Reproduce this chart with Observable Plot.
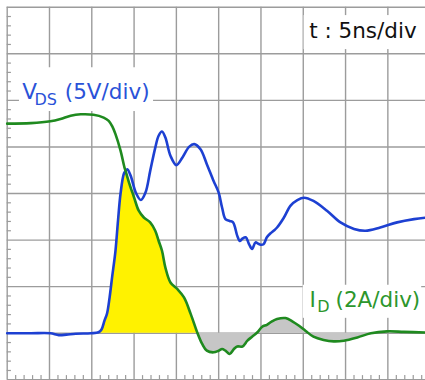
<!DOCTYPE html>
<html>
<head>
<meta charset="utf-8">
<script src="https://cdn.jsdelivr.net/npm/d3@7"></script>
<script src="https://cdn.jsdelivr.net/npm/@observablehq/plot@0.6"></script>
<style>
  body { margin: 0; background: #fff; }
</style>
</head>
<body>
<div id="chart"></div>
<script>
// Channel 1 (blue trace): sample times (ns) and volts
const vdsTime = [0.0, 2.8, 5.1, 6.1, 7.0, 8.1, 9.9, 10.8, 11.15, 11.5, 11.8, 12.1, 12.4, 12.8, 13.1, 13.4, 13.8, 14.0, 14.2, 14.6,
  15.2, 15.8, 16.35, 16.9, 17.5, 17.9, 18.3, 18.7, 19.3, 20.0, 20.7, 21.5, 22.1, 22.85, 23.6, 24.4, 25.0, 25.4, 25.8, 26.3,
  26.7, 27.2, 27.5, 27.8, 28.2, 28.6, 28.95, 29.35, 29.7, 29.95, 30.3, 30.7, 31.1, 31.5, 31.9, 32.7, 33.5, 34.3, 35.1, 36.2,
  37.8, 39.4, 41.0, 42.35, 44.1, 46.1, 48.1, 49.45];
const vdsVolts = [0, 0, 0, -0.2, -0.15, -0.05, 0, 0.1, 0.4, 1.35, 2.1, 3.8, 6.0, 8.85, 12.1, 15.0, 17.15, 17.4, 17.6, 16.9,
  15.1, 14.3, 15.1, 17.4, 19.9, 21.2, 21.65, 21.0, 19.05, 18.05, 18.85, 20.0, 20.3, 19.75, 18.15, 16.35, 15.1, 13.5, 12.25, 12.05,
  11.9, 10.45, 9.9, 10.15, 10.3, 9.55, 9.05, 9.75, 9.6, 9.5, 9.55, 10.3, 10.7, 11.0, 11.35, 12.4, 13.7, 14.3, 14.55, 14.2,
  13.15, 11.9, 11.2, 11.0, 11.35, 11.9, 12.25, 12.4];

// Channel 2 (green trace): sample times (ns) and amperes
const idTime = [0.0, 2.8, 5.1, 6.3, 7.5, 8.7, 10.2, 11.4, 12.0, 12.45, 12.8, 13.4, 13.86, 14.0, 14.4, 15.0, 15.55, 16.15, 16.9, 17.5,
  17.9, 18.3, 18.7, 19.3, 20.1, 20.9, 21.7, 22.5, 23.05, 23.6, 24.4, 25.0, 25.4, 25.8, 26.3, 26.8, 27.2, 27.8, 28.4, 28.95,
  29.55, 30.15, 30.7, 31.3, 31.9, 32.9, 33.7, 34.5, 35.25, 36.2, 37.4, 38.6, 39.8, 41.4, 43.0, 44.9, 46.9, 49.45];
const idAmps = [9.0, 9.02, 9.1, 9.2, 9.34, 9.4, 9.38, 9.26, 9.12, 8.86, 8.55, 7.84, 7.12, 6.96, 6.47, 5.83, 5.26, 4.97, 4.76, 4.4,
  3.97, 3.54, 2.82, 2.18, 1.9, 1.54, 0.82, 0, -0.46, -0.75, -0.82, -0.75, -0.68, -0.75, -0.89, -0.68, -0.57, -0.57, -0.32, -0.15,
  0.03, 0.28, 0.36, 0.51, 0.61, 0.65, 0.51, 0.32, 0.11, -0.15, -0.29, -0.35, -0.32, -0.18, 0, 0.08, 0.06, 0.03];

// Scope settings
const nsPerDiv = 5;
const voltsPerDiv = 5;
const ampsPerDiv = 2;

// Graticule: major divisions and minor subdivisions
const xMajor = d3.range(0, 50, nsPerDiv);            // ns
const yMajor = d3.range(-1, 8, 1);                   // div
const xMinor = d3.range(0, 50, 1).filter(t => t % nsPerDiv !== 0);
const yMinor = d3.range(-1, 7.001, 0.2).map(v => +v.toFixed(1)).filter(v => !Number.isInteger(v));

// Switching window: overlap region and ringing region
const turnOnStart = 10.8, crossover = 14.0, currentZero = 22.5, ringEnd = 43.0;

const vds = vdsTime.map((t, i) => ({t, div: vdsVolts[i] / voltsPerDiv}));
const id = idTime.map((t, i) => ({t, div: idAmps[i] / ampsPerDiv}));

// Loss area: bounded by the lower of the two traces
const overlap = [
  ...vds.filter(d => d.t >= turnOnStart && d.t < crossover),
  ...id.filter(d => d.t >= crossover && d.t <= currentZero)
];
const ringing = id.filter(d => d.t >= currentZero && d.t <= ringEnd);

const gridColor = "#9c9c9c";
const blue = "#1d40d2";
const green = "#1f8a1f";
const blueText = "#2a52d8";
const greenText = "#2c962c";
const font = "DejaVu Sans, Verdana, sans-serif";

const label = (s, dx, dy, size, fill) =>
  Plot.text([s], {frameAnchor: "top-left", dx, dy, text: d => d, textAnchor: "start",
    lineAnchor: "bottom", fontSize: size, fill, fontFamily: font});

const chart = Plot.plot({
  width: 425,
  height: 380,
  marginTop: 6.7,
  marginLeft: 6.7,
  marginRight: 0,
  marginBottom: 0.7,
  x: {domain: [0, 49.45], axis: null},
  y: {domain: [-1, 7], axis: null},
  style: {background: "#fff", fontFamily: font},
  marks: [
    // graticule
    Plot.ruleX(xMajor, {stroke: gridColor, strokeWidth: 1.4}),
    Plot.ruleY(yMajor, {stroke: gridColor, strokeWidth: 1.4}),
    Plot.ruleY(yMinor, {x1: 0, x2: 0.5, stroke: gridColor, strokeWidth: 1.2}),
    Plot.ruleX(xMinor, {y1: -1, y2: -0.91, stroke: gridColor, strokeWidth: 1.2}),
    // shaded regions
    Plot.areaY(overlap, {x: "t", y1: 0, y2: "div", fill: "#fff200", curve: "catmull-rom"}),
    Plot.areaY(ringing, {x: "t", y1: 0, y2: "div", fill: "#c6c6c6", curve: "catmull-rom"}),
    // label backgrounds
    Plot.rect([
      {x1: 35.1, x2: 49.0, y1: 6.09, y2: 6.82},
      {x1: 1.45, x2: 17.3, y1: 4.76, y2: 5.70},
      {x1: 35.0, x2: 49.0, y1: 0.32, y2: 1.03}
    ], {x1: "x1", x2: "x2", y1: "y1", y2: "y2", fill: "#fff"}),
    // traces
    Plot.line(vds, {x: "t", y: "div", stroke: blue, strokeWidth: 2.6, curve: "catmull-rom"}),
    Plot.line(id, {x: "t", y: "div", stroke: green, strokeWidth: 2.6, curve: "catmull-rom"}),
    // annotations
    label("t : 5ns/div", 302, 30.6, 21.5, "#111"),
    label("V", 15, 91.6, 21.5, blueText),
    label("DS", 27.3, 97.6, 16, blueText),
    label("(5V/div)", 57.6, 91.6, 21.5, blueText),
    label("I", 302.3, 300, 21.5, greenText),
    label("D", 310, 305, 16, greenText),
    label("(2A/div)", 328.3, 300, 21.5, greenText)
  ]
});

document.getElementById("chart").appendChild(chart);
</script>
</body>
</html>
